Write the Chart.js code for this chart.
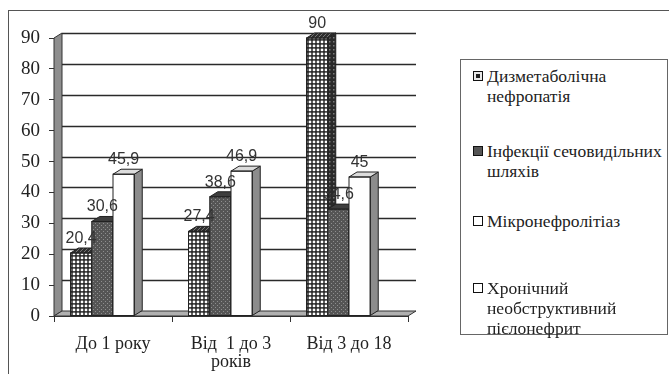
<!DOCTYPE html>
<html>
<head>
<meta charset="utf-8">
<script src="https://cdn.jsdelivr.net/npm/chart.js@4/dist/chart.umd.min.js"></script>
<style>
  html, body { margin: 0; padding: 0; background: #fff; }
  #wrap { position: relative; width: 669px; height: 374px; overflow: hidden; background: #fff; }
  #frame { position: absolute; left: 8px; top: 10px; width: 720px; height: 420px; border: 1px solid #555; }
  #chart { position: absolute; left: 0; top: 0; }
  #legend { position: absolute; left: 460px; top: 59px; width: 206px; height: 274px;
            border: 1px solid #666; background: #fff;
            font-family: "Liberation Serif", "DejaVu Serif", serif; font-size: 17.5px; color: #222; }
  .item { position: absolute; left: 26px; line-height: 20px; white-space: nowrap; }
  .box { position: absolute; left: -14px; top: 5px; width: 8px; height: 8px; border: 1px solid #111; }
</style>
</head>
<body>
<div id="wrap">
  <div id="frame"></div>
  <canvas id="chart" width="669" height="374"></canvas>
  <div id="legend"></div>
</div>
<script>
// Age groups (multi-line labels) and the share of each diagnosis, %
const categories = [['До 1 року'], ['Від  1 до 3', 'років'], ['Від 3 до 18']];
const seriesNames = [
  ['Дизметаболічна', 'нефропатія'],
  ['Інфекції сечовидільних', 'шляхів'],
  ['Мікронефролітіаз'],
  ['Хронічний', 'необструктивний', 'пієлонефрит']
];
const dysmetabolic = [20.4, 27.4, 90];
const infections   = [30.6, 38.6, 34.6];
const microlith    = [45.9, 46.9, 45];
const pyelonephr   = [null, null, null];
const yTicks = [0, 10, 20, 30, 40, 50, 60, 70, 80, 90];

// depth of the pseudo-3D boxes
const DX = 8, DY = 5;

function makePattern(w, h, paint) {
  const c = document.createElement('canvas');
  c.width = w; c.height = h;
  paint(c.getContext('2d'));
  return c.getContext('2d').createPattern(c, 'repeat');
}
const ctx0 = document.getElementById('chart').getContext('2d');
const checker = makePattern(4, 4, g => {
  g.fillStyle = '#1c1c1c'; g.fillRect(0, 0, 4, 4);
  g.fillStyle = '#ffffff'; g.fillRect(0.7, 0.6, 2.6, 2.6);
});
const checkerSide = makePattern(4, 4, g => {
  g.fillStyle = '#2a2a2a'; g.fillRect(0, 0, 4, 4);
  g.fillStyle = '#7a7a7a'; g.fillRect(1, 1, 1.5, 1.5);
});
const hatch = makePattern(4, 4, g => {
  g.fillStyle = '#2e2e2e'; g.fillRect(0, 0, 4, 4);
  g.strokeStyle = '#8a8a8a'; g.lineWidth = 0.8;
  g.beginPath(); g.moveTo(0, 4); g.lineTo(4, 0); g.stroke();
});
const dotted = makePattern(4, 4, g => {
  g.fillStyle = '#555555'; g.fillRect(0, 0, 4, 4);
  g.fillStyle = '#8e8e8e'; g.fillRect(1, 1, 1, 1); g.fillRect(3, 3, 1, 1);
});

const fronts = [checker, dotted, '#ffffff', '#ffffff'];
const sides  = [checkerSide, '#3a3a3a', '#8c8c8c', '#8c8c8c'];
const tops   = [hatch, '#3e3e3e', '#dcdcdc', '#dcdcdc'];

function fmt(v) { return String(v).replace('.', ','); }

const boxes3d = {
  id: 'boxes3d',
  beforeDatasetsDraw(chart) {
    const { ctx, chartArea: a, scales: { y } } = chart;
    ctx.save();
    // left wall
    ctx.beginPath();
    ctx.moveTo(a.left, a.bottom);
    ctx.lineTo(a.left + DX, a.bottom - DY);
    ctx.lineTo(a.left + DX, a.top - DY);
    ctx.lineTo(a.left, a.top);
    ctx.closePath();
    ctx.fillStyle = '#8e8e8e'; ctx.fill();
    ctx.strokeStyle = '#333'; ctx.lineWidth = 1; ctx.stroke();
    // floor
    ctx.beginPath();
    ctx.moveTo(a.left, a.bottom);
    ctx.lineTo(a.right, a.bottom);
    ctx.lineTo(a.right + DX, a.bottom - DY);
    ctx.lineTo(a.left + DX, a.bottom - DY);
    ctx.closePath();
    ctx.fillStyle = '#b0b0b0'; ctx.fill();
    ctx.stroke();
    // grid lines on the back wall
    ctx.strokeStyle = '#2a2a2a'; ctx.lineWidth = 1.3;
    yTicks.forEach(v => {
      if (v === 0) return;
      const py = Math.round(y.getPixelForValue(v) - DY) + 0.5;
      ctx.beginPath();
      ctx.moveTo(a.left + DX, py);
      ctx.lineTo(a.right + DX, py);
      ctx.stroke();
    });
    ctx.restore();
  },
  beforeDatasetDraw() { return false; },
  afterDatasetsDraw(chart) {
    const { ctx } = chart;
    const n = chart.data.labels.length;
    ctx.save();
    for (let j = 0; j < n; j++) {
      chart.data.datasets.forEach((ds, i) => {
        const v = ds.data[j];
        if (v === null || v === undefined) return;
        const el = chart.getDatasetMeta(i).data[j];
        const { x, y, base, width } = el.getProps(['x', 'y', 'base', 'width'], true);
        const l = x - width / 2, r = x + width / 2;
        el.draw(ctx);
        ctx.strokeStyle = '#222'; ctx.lineWidth = 1;
        // right side face
        ctx.beginPath();
        ctx.moveTo(r, base); ctx.lineTo(r + DX, base - DY);
        ctx.lineTo(r + DX, y - DY); ctx.lineTo(r, y);
        ctx.closePath();
        ctx.fillStyle = sides[i]; ctx.fill(); ctx.stroke();
        // top face
        ctx.beginPath();
        ctx.moveTo(l, y); ctx.lineTo(l + DX, y - DY);
        ctx.lineTo(r + DX, y - DY); ctx.lineTo(r, y);
        ctx.closePath();
        ctx.fillStyle = tops[i]; ctx.fill(); ctx.stroke();
        // front outline
        ctx.strokeRect(l, y, width, base - y);
      });
    }
    // value labels above each box
    ctx.font = '16px "Liberation Sans", Arial, sans-serif';
    ctx.fillStyle = '#333';
    ctx.textAlign = 'center';
    ctx.textBaseline = 'alphabetic';
    chart.data.datasets.forEach((ds, i) => {
      chart.getDatasetMeta(i).data.forEach((el, j) => {
        const v = ds.data[j];
        if (v === null || v === undefined) return;
        ctx.fillText(fmt(v), el.x, el.y - DY - 5);
      });
    });
    ctx.restore();
  }
};

const serif = '"Liberation Serif", "DejaVu Serif", serif';
const seriesData = [dysmetabolic, infections, microlith, pyelonephr];

new Chart(ctx0, {
  type: 'bar',
  data: {
    labels: categories,
    datasets: seriesData.map((d, i) => ({
      label: seriesNames[i].join(' '),
      data: d,
      backgroundColor: fronts[i],
      borderColor: '#222',
      borderWidth: 0,
      categoryPercentage: 0.72,
      barPercentage: 1.0
    }))
  },
  options: {
    responsive: false,
    animation: false,
    events: [],
    layout: { padding: { top: 38, left: 0, right: 261, bottom: 0 } },
    plugins: { legend: { display: false }, tooltip: { enabled: false } },
    scales: {
      x: {
        offset: true,
        grid: { offset: true, drawOnChartArea: false, drawTicks: true, tickLength: 6, color: '#333' },
        border: { display: true, color: '#333' },
        ticks: { font: { family: serif, size: 18, lineHeight: 1.0 }, color: '#222', padding: 13, maxRotation: 0, autoSkip: false },
        afterFit(s) { s.height = 58; }
      },
      y: {
        min: 0, max: 90,
        grid: { drawOnChartArea: false, drawTicks: true, tickLength: 5, color: '#333' },
        border: { display: true, color: '#333' },
        ticks: { stepSize: 10, font: { family: serif, size: 19 }, color: '#222', padding: 9 },
        afterFit(s) { s.width = 54; }
      }
    }
  },
  plugins: [boxes3d]
});

// legend with wrapped labels
const legendSwatches = [
  'background:#222; box-shadow: inset 0 0 0 2px #e8e8e8, inset 0 0 0 3px #222;',
  'background:#555;',
  'background:#fff;',
  'background:#fff;'
];
const legendTops = [6, 81, 151, 218];
const legend = document.getElementById('legend');
seriesNames.forEach((lines, i) => {
  const item = document.createElement('div');
  item.className = 'item';
  item.style.top = legendTops[i] + 'px';
  const box = document.createElement('span');
  box.className = 'box';
  box.style.cssText = legendSwatches[i];
  item.appendChild(box);
  lines.forEach((t, k) => {
    if (k) item.appendChild(document.createElement('br'));
    item.appendChild(document.createTextNode(t));
  });
  legend.appendChild(item);
});
</script>
</body>
</html>
